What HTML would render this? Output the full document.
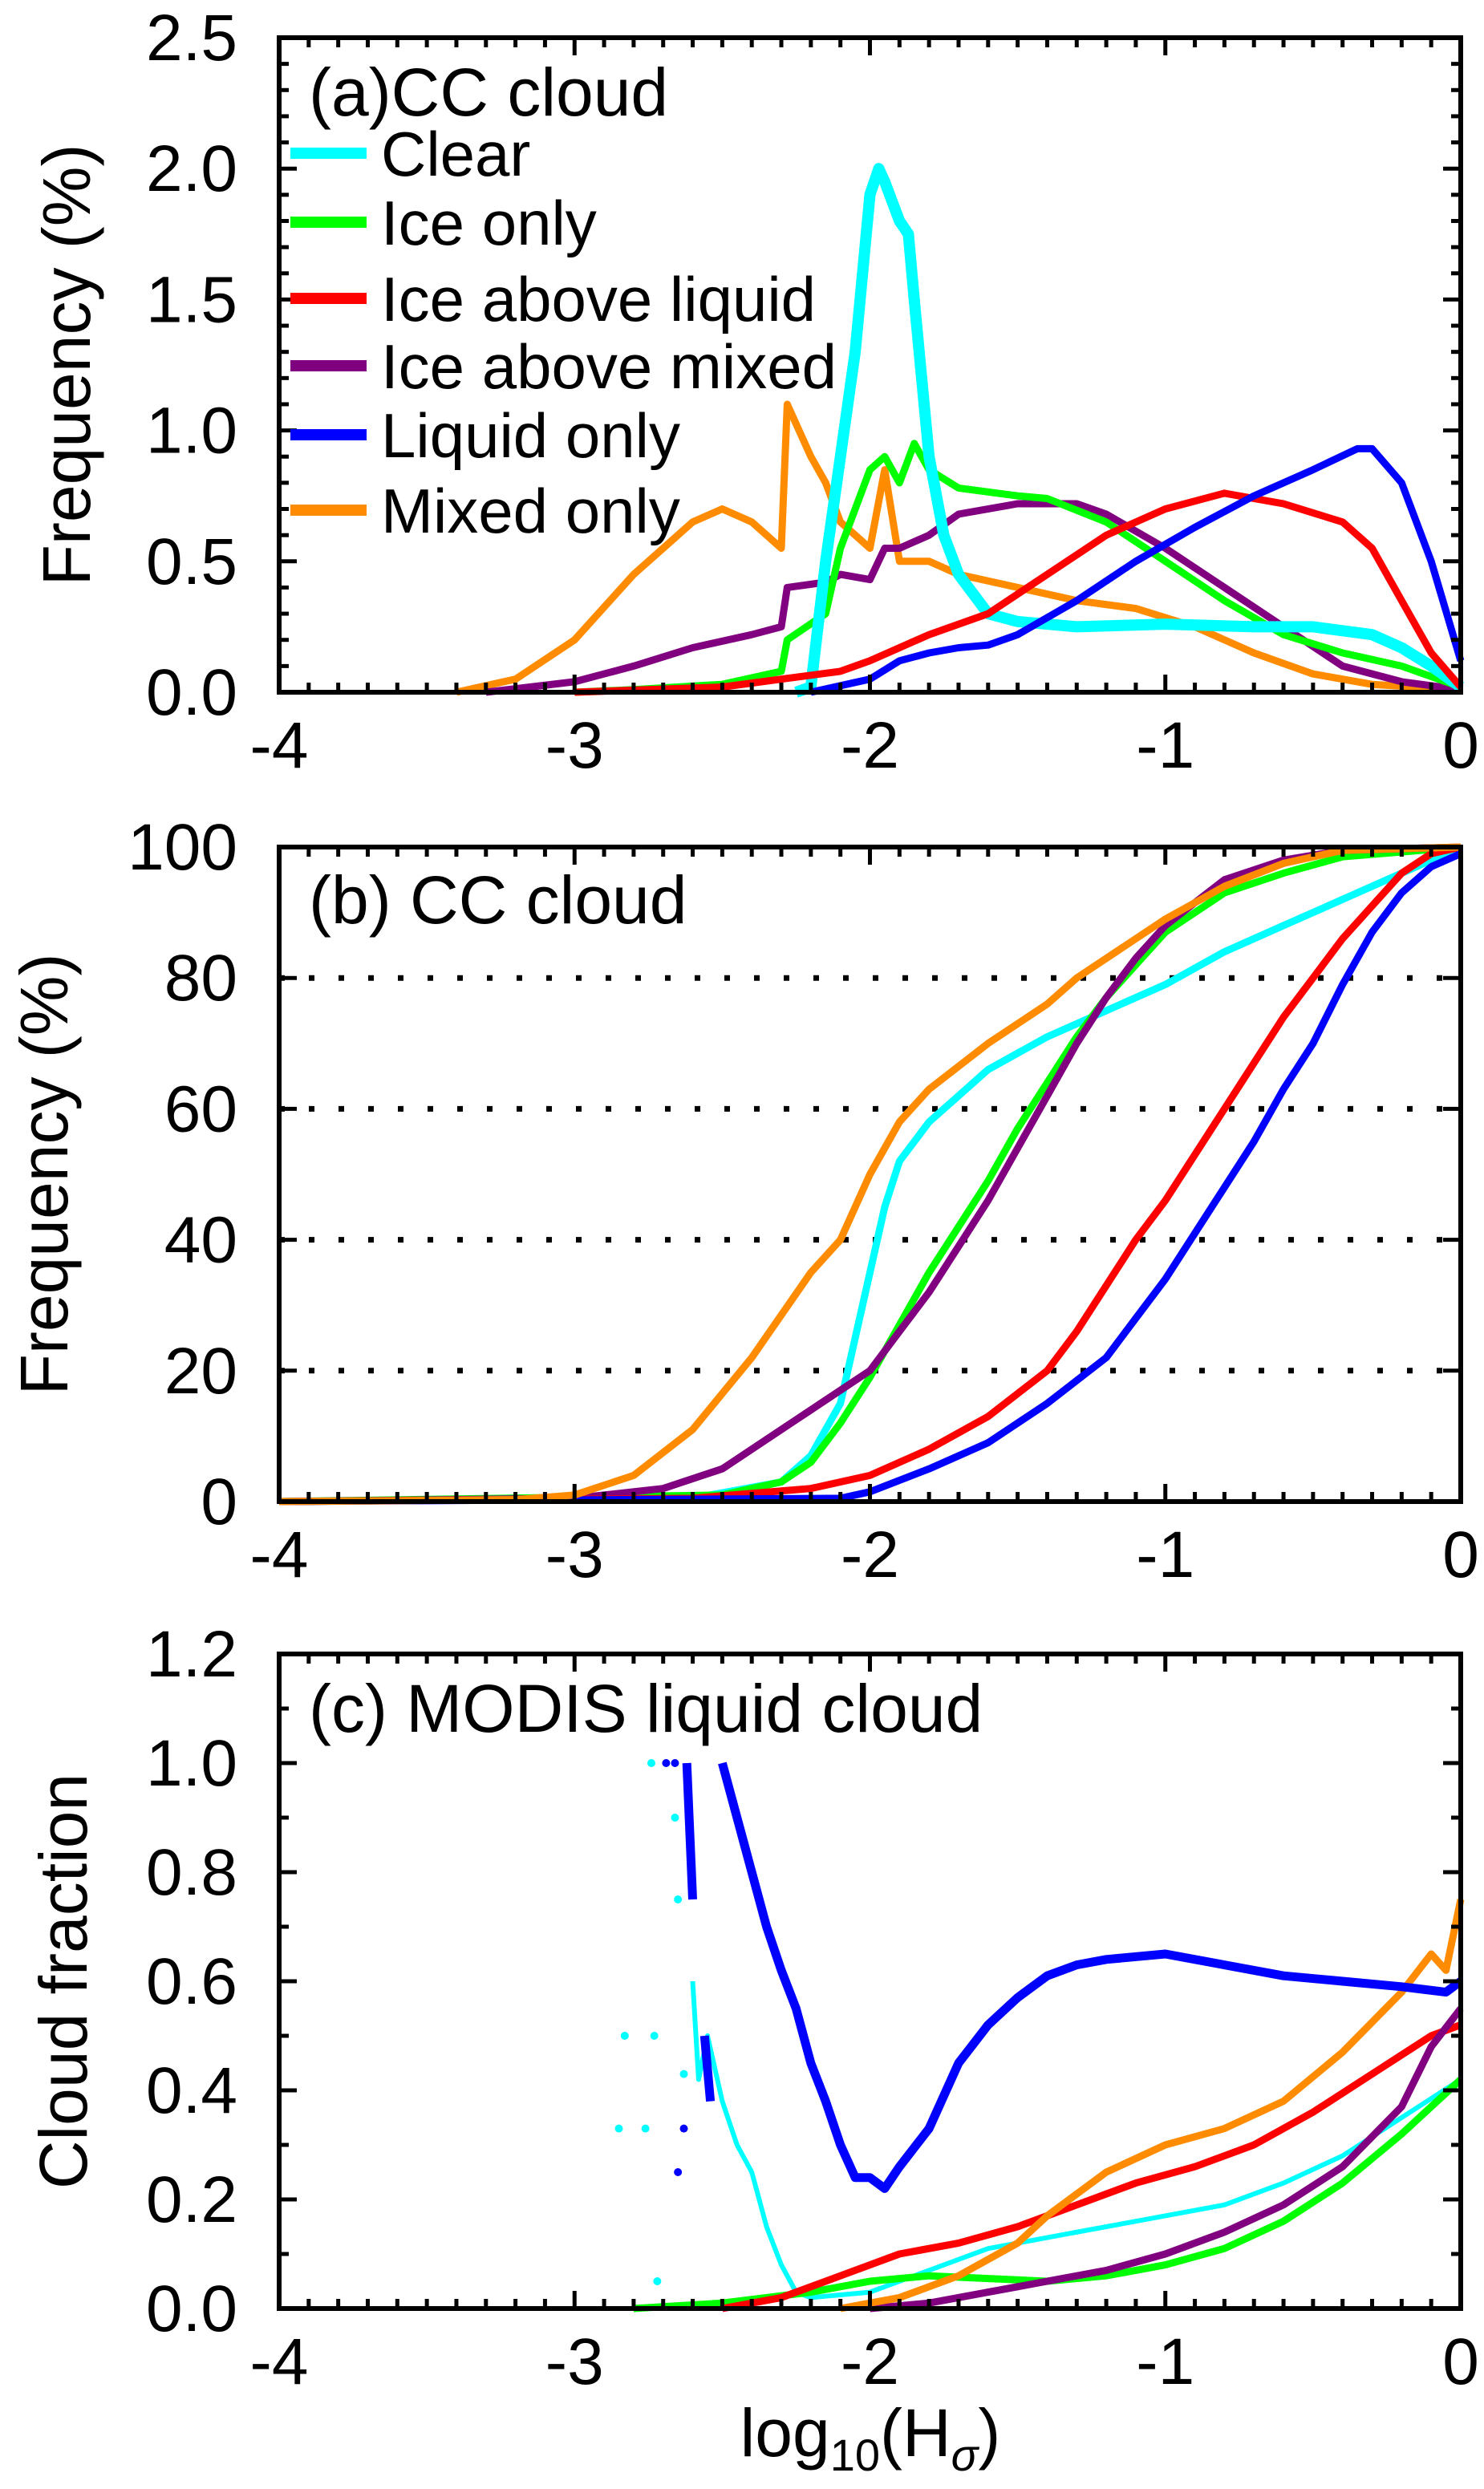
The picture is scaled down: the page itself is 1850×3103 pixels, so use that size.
<!DOCTYPE html>
<html><head><meta charset="utf-8"><style>
html,body{margin:0;padding:0;background:#fff}
svg{display:block}
text{font-family:"Liberation Sans",sans-serif;fill:#000}
</style></head><body>
<svg id="fig" width="1850" height="3103" viewBox="0 0 1850 3103" xmlns="http://www.w3.org/2000/svg"></svg>
<script>
// ---------- DATA ----------
const seriesNames = ["Clear","Ice only","Ice above liquid","Ice above mixed","Liquid only","Mixed only"];
const seriesColors = ["#00ffff","#00ff00","#ff0000","#800080","#0000ff","#ff8c00"];
const xTicks = [-4,-3,-2,-1,0];
const xTickLabels = ["-4","-3","-2","-1","0"];

// Panel (a) frequency
const aClearX = [-2.25,-2.2,-2.15,-2.1,-2.05,-2.0,-1.97,-1.95,-1.9,-1.87,-1.85,-1.8,-1.75,-1.7,-1.6,-1.5,-1.3,-1.0,-0.7,-0.5,-0.3,-0.2,-0.1,0];
const aClearY = [0.0,0.02,0.5,0.9,1.3,1.9,2.0,1.95,1.8,1.75,1.5,0.9,0.6,0.45,0.3,0.27,0.25,0.26,0.25,0.25,0.22,0.17,0.1,0.02];
const aIceX = [-3.0,-2.8,-2.5,-2.3,-2.28,-2.15,-2.1,-2.0,-1.95,-1.9,-1.85,-1.8,-1.7,-1.5,-1.4,-1.2,-1.0,-0.8,-0.6,-0.4,-0.2,0];
const aIceY = [0.0,0.01,0.03,0.08,0.2,0.3,0.55,0.85,0.9,0.8,0.95,0.85,0.78,0.75,0.74,0.65,0.5,0.35,0.22,0.15,0.1,0.02];
const aLiqX = [-3.0,-2.5,-2.3,-2.1,-2.0,-1.9,-1.8,-1.6,-1.4,-1.2,-1.0,-0.8,-0.6,-0.4,-0.3,-0.2,-0.1,0];
const aLiqY = [0.0,0.02,0.05,0.08,0.12,0.17,0.22,0.3,0.45,0.6,0.7,0.76,0.72,0.65,0.55,0.35,0.15,0.02];
const aMixX = [-3.3,-3.0,-2.8,-2.6,-2.4,-2.3,-2.28,-2.15,-2.1,-2.0,-1.95,-1.9,-1.8,-1.7,-1.5,-1.3,-1.2,-1.0,-0.8,-0.6,-0.4,-0.2,0];
const aMixY = [0.0,0.04,0.1,0.17,0.22,0.25,0.4,0.42,0.45,0.43,0.55,0.55,0.6,0.68,0.72,0.72,0.68,0.55,0.4,0.25,0.1,0.04,0.01];
const aLonlyX = [-2.2,-2.0,-1.9,-1.8,-1.7,-1.6,-1.5,-1.3,-1.1,-0.9,-0.7,-0.5,-0.35,-0.3,-0.2,-0.1,0];
const aLonlyY = [0.0,0.05,0.12,0.15,0.17,0.18,0.22,0.35,0.5,0.63,0.75,0.85,0.93,0.93,0.8,0.5,0.12];
const aMonlyX = [-3.4,-3.2,-3.0,-2.8,-2.7,-2.6,-2.5,-2.4,-2.3,-2.28,-2.2,-2.15,-2.1,-2.0,-1.95,-1.9,-1.8,-1.7,-1.5,-1.3,-1.1,-0.9,-0.7,-0.5,-0.3,0];
const aMonlyY = [0.0,0.05,0.2,0.45,0.55,0.65,0.7,0.65,0.55,1.1,0.9,0.8,0.65,0.55,0.85,0.5,0.5,0.45,0.4,0.35,0.32,0.25,0.15,0.07,0.03,0.01];

// Panel (b) cumulative
const bClearX = [-4,-2.6,-2.3,-2.2,-2.1,-2.05,-2.0,-1.95,-1.9,-1.8,-1.7,-1.6,-1.4,-1.2,-1.0,-0.8,-0.6,-0.4,-0.2,0];
const bClearY = [0,0.5,3,7,15,25,35,45,52,58,62,66,71,75,79,84,88,92,96,100];
const bIceX = [-4,-2.5,-2.3,-2.2,-2.1,-2.0,-1.9,-1.8,-1.7,-1.6,-1.5,-1.4,-1.3,-1.2,-1.1,-1.0,-0.8,-0.6,-0.4,0];
const bIceY = [0,1,3,6,12,19,27,35,42,49,57,64,71,77,82,87,93,96,98.5,100];
const bLiqX = [-4,-2.6,-2.2,-2.0,-1.8,-1.6,-1.4,-1.3,-1.2,-1.1,-1.0,-0.9,-0.8,-0.7,-0.6,-0.5,-0.4,-0.3,-0.2,-0.1,0];
const bLiqY = [0,0.5,2,4,8,13,20,26,33,40,46,53,60,67,74,80,86,91,96,99,100];
const bMixX = [-4,-3.0,-2.7,-2.5,-2.3,-2.1,-2.0,-1.9,-1.8,-1.7,-1.6,-1.5,-1.4,-1.3,-1.2,-1.1,-1.0,-0.8,-0.6,-0.4,0];
const bMixY = [0,0.5,2,5,11,17,20,26,32,39,46,54,62,70,77,83,88,95,98,99.5,100];
const bLonlyX = [-4,-2.1,-2.0,-1.8,-1.6,-1.4,-1.2,-1.1,-1.0,-0.9,-0.8,-0.7,-0.6,-0.5,-0.4,-0.3,-0.2,-0.1,0];
const bLonlyY = [0,0.5,1.5,5,9,15,22,28,34,41,48,55,63,70,79,87,93,97,99];
const bMonlyX = [-4,-3.2,-3.0,-2.8,-2.6,-2.4,-2.2,-2.1,-2.0,-1.9,-1.8,-1.6,-1.4,-1.3,-1.0,-0.8,-0.6,-0.4,0];
const bMonlyY = [0,0.3,1,4,11,22,35,40,50,58,63,70,76,80,89,94,97.5,99.5,100];

// Panel (c) cloud fraction
const cClearX = [-2.6,-2.58,-2.55,-2.5,-2.45,-2.4,-2.35,-2.3,-2.25,-2.2,-2.0,-1.8,-1.6,-1.4,-1.2,-1.0,-0.8,-0.6,-0.4,-0.2,0];
const cClearY = [0.6,0.42,0.5,0.38,0.3,0.25,0.15,0.08,0.03,0.02,0.03,0.07,0.11,0.13,0.15,0.17,0.19,0.23,0.28,0.35,0.42];
const cIceX = [-2.8,-2.5,-2.2,-2.0,-1.8,-1.6,-1.4,-1.2,-1.0,-0.8,-0.6,-0.4,-0.2,0];
const cIceY = [0,0.01,0.03,0.05,0.06,0.055,0.05,0.06,0.08,0.11,0.16,0.23,0.32,0.42];
const cLiqX = [-2.5,-2.3,-2.1,-1.9,-1.7,-1.5,-1.3,-1.1,-0.9,-0.7,-0.5,-0.3,-0.1,0];
const cLiqY = [0,0.02,0.06,0.1,0.12,0.15,0.19,0.23,0.26,0.3,0.36,0.43,0.5,0.52];
const cMixX = [-2.0,-1.8,-1.6,-1.4,-1.2,-1.0,-0.8,-0.6,-0.4,-0.2,-0.1,0];
const cMixY = [0,0.01,0.03,0.05,0.07,0.1,0.14,0.19,0.26,0.37,0.48,0.55];
const cLonlyX = [-2.5,-2.45,-2.4,-2.35,-2.3,-2.25,-2.2,-2.15,-2.1,-2.05,-2.0,-1.95,-1.9,-1.8,-1.7,-1.6,-1.5,-1.4,-1.3,-1.2,-1.0,-0.8,-0.6,-0.4,-0.2,-0.05,0];
const cLonlyY = [1.0,0.9,0.8,0.7,0.62,0.55,0.45,0.38,0.3,0.24,0.24,0.22,0.26,0.33,0.45,0.52,0.57,0.61,0.63,0.64,0.65,0.63,0.61,0.6,0.59,0.58,0.6];
const cLonlySegX = [-2.62,-2.6];
const cLonlySegY = [1.0,0.75];
const cLonlySeg2X = [-2.56,-2.54];
const cLonlySeg2Y = [0.5,0.38];
const cMonlyX = [-2.1,-1.9,-1.7,-1.5,-1.4,-1.2,-1.0,-0.8,-0.6,-0.4,-0.2,-0.1,-0.05,0];
const cMonlyY = [0,0.02,0.06,0.12,0.17,0.25,0.3,0.33,0.38,0.47,0.58,0.65,0.62,0.75];
const cClearDotsX = [-2.74,-2.66,-2.65,-2.83,-2.73,-2.85,-2.76,-2.63,-2.72];
const cClearDotsY = [1.0,0.9,0.75,0.5,0.5,0.33,0.33,0.43,0.05];
const cLonlyDotsX = [-2.69,-2.66,-2.63,-2.65];
const cLonlyDotsY = [1.0,1.0,0.33,0.25];

// ---------- DRAW ----------
const svg = document.getElementById('fig');
const NS = 'http://www.w3.org/2000/svg';
const L = 348, R = 1821;
function mk(tag, attrs, parent){ const e=document.createElementNS(NS,tag); for(const k in attrs) e.setAttribute(k,attrs[k]); (parent||svg).appendChild(e); return e; }

function panel(p){
  const g = mk('g',{});
  
  
  const top=p.top, bot=p.top+816;
  const sx = v => L + (v+4)/4*(R-L);
  const sy = v => bot - (v-p.ymin)/(p.ymax-p.ymin)*(bot-top);
  (p.grid||[]).forEach(v=>{
    const gl = mk('line',{x1:L,x2:R,y1:sy(v),y2:sy(v),stroke:'#000','stroke-width':7,'stroke-dasharray':'7 30'},g);
    
    
  });
  p.series.forEach((s,i)=>{
    const d = s.x.map((xv,j)=>(j?'L':'M')+sx(xv).toFixed(1)+' '+sy(s.y[j]).toFixed(1)).join(' ');
    const pa = mk('path',{d:d,fill:'none',stroke:s.c,'stroke-width':s.w||9,'stroke-linejoin':'round'},g);
    
    
  });
  (p.dots||[]).forEach(ds=>{
    ds.x.forEach((xv,j)=>{
      const c = mk('circle',{cx:sx(xv),cy:sy(ds.y[j]),r:5,fill:ds.c},g);
      
      
    });
  });
  const fr = mk('rect',{x:L,y:top,width:R-L,height:bot-top,fill:'none',stroke:'#000','stroke-width':6},g);
  
  
  for(let k=0;k<=40;k++){
    const v=-4+k*0.1, len = (k%10===0)?22:12;
    mk('line',{x1:sx(v),x2:sx(v),y1:bot,y2:bot-len,stroke:'#000','stroke-width':5},g);
    mk('line',{x1:sx(v),x2:sx(v),y1:top,y2:top+len,stroke:'#000','stroke-width':5},g);
  }
  const nMin = Math.round((p.ymax-p.ymin)/p.minor);
  for(let k=0;k<=nMin;k++){
    const v=p.ymin+k*p.minor;
    const isMaj = Math.abs(v/p.major - Math.round(v/p.major))<1e-6;
    const len = isMaj?22:12;
    mk('line',{x1:L,x2:L+len,y1:sy(v),y2:sy(v),stroke:'#000','stroke-width':5},g);
    mk('line',{x1:R,x2:R-len,y1:sy(v),y2:sy(v),stroke:'#000','stroke-width':5},g);
  }
  p.yTicks.forEach((v,i)=>{
    const t = mk('text',{x:296,y:sy(v)+28,'text-anchor':'end','font-size':82},g);
    t.textContent = p.yLabels[i];
    
    
  });
  xTicks.forEach((v,i)=>{
    const t = mk('text',{x:sx(v),y:bot+94,'text-anchor':'middle','font-size':82},g);
    t.textContent = xTickLabels[i];
    
    
  });
  const ti = mk('text',{x:385,y:top+p.titleDy,'font-size':84},g);
  ti.textContent = p.title;
  
  
  const yl = mk('text',{x:0,y:0,'text-anchor':'middle','font-size':84,transform:`translate(${p.ylX},${top+408}) rotate(-90)`},g);
  yl.textContent = p.ylabel;
  
  
  return g;
}

const C = seriesColors;
panel({name:'panel-a-frequency',top:47,ymin:0,ymax:2.5,major:0.5,minor:0.1,
  yTicks:[0,0.5,1,1.5,2,2.5],yLabels:["0.0","0.5","1.0","1.5","2.0","2.5"],
  title:'(a)CC  cloud',titleDy:97,ylabel:'Frequency (%)',ylX:112,
  series:[
    {n:'mixed-only',x:aMonlyX,y:aMonlyY,c:C[5]},
    {n:'ice-above-mixed',x:aMixX,y:aMixY,c:C[3]},
    {n:'ice-only',x:aIceX,y:aIceY,c:C[1]},
    {n:'clear',x:aClearX,y:aClearY,c:C[0],w:14},
    {n:'ice-above-liquid',x:aLiqX,y:aLiqY,c:C[2]},
    {n:'liquid-only',x:aLonlyX,y:aLonlyY,c:C[4]}
  ]});
panel({name:'panel-b-cumulative',top:1056,ymin:0,ymax:100,major:20,minor:20,grid:[20,40,60,80],
  yTicks:[0,20,40,60,80,100],yLabels:["0","20","40","60","80","100"],
  title:'(b)  CC cloud',titleDy:95,ylabel:'Frequency (%)',ylX:84,
  series:[
    {n:'clear',x:bClearX,y:bClearY,c:C[0]},
    {n:'ice-only',x:bIceX,y:bIceY,c:C[1]},
    {n:'ice-above-mixed',x:bMixX,y:bMixY,c:C[3]},
    {n:'ice-above-liquid',x:bLiqX,y:bLiqY,c:C[2]},
    {n:'liquid-only',x:bLonlyX,y:bLonlyY,c:C[4]},
    {n:'mixed-only',x:bMonlyX,y:bMonlyY,c:C[5]}
  ]});
panel({name:'panel-c-cloud-fraction',top:2062,ymin:0,ymax:1.2,major:0.2,minor:0.1,
  yTicks:[0,0.2,0.4,0.6,0.8,1.0,1.2],yLabels:["0.0","0.2","0.4","0.6","0.8","1.0","1.2"],
  title:'(c)  MODIS   liquid  cloud',titleDy:97,ylabel:'Cloud  fraction',ylX:108,
  series:[
    {n:'clear',x:cClearX,y:cClearY,c:C[0],w:6},
    {n:'ice-only',x:cIceX,y:cIceY,c:C[1]},
    {n:'ice-above-liquid',x:cLiqX,y:cLiqY,c:C[2]},
    {n:'ice-above-mixed',x:cMixX,y:cMixY,c:C[3]},
    {n:'mixed-only',x:cMonlyX,y:cMonlyY,c:C[5]},
    {n:'liquid-only',x:cLonlyX,y:cLonlyY,c:C[4],w:11},
    {n:'liquid-only-seg',x:cLonlySegX,y:cLonlySegY,c:C[4],w:11},
    {n:'liquid-only-seg2',x:cLonlySeg2X,y:cLonlySeg2Y,c:C[4],w:11}
  ],
  dots:[{x:cClearDotsX,y:cClearDotsY,c:C[0]},{x:cLonlyDotsX,y:cLonlyDotsY,c:C[4]}]});

const lg = mk('g',{});


const legY = [191,277,372,456,542,636];
seriesNames.forEach((n,i)=>{
  const ln = mk('line',{x1:362,x2:457,y1:legY[i],y2:legY[i],stroke:seriesColors[i],'stroke-width':14},lg);
  
  
  const t = mk('text',{x:475,y:legY[i]+28,'font-size':78},lg);
  t.textContent = n;
  
  
});

const xt = mk('text',{x:1085,y:3062,'text-anchor':'middle','font-size':84});


xt.innerHTML = 'log<tspan font-size="56" dy="18">10</tspan><tspan dy="-18">(H</tspan><tspan font-size="56" dy="18" font-style="italic">σ</tspan><tspan dy="-18">)</tspan>';
</script>
</body></html>
